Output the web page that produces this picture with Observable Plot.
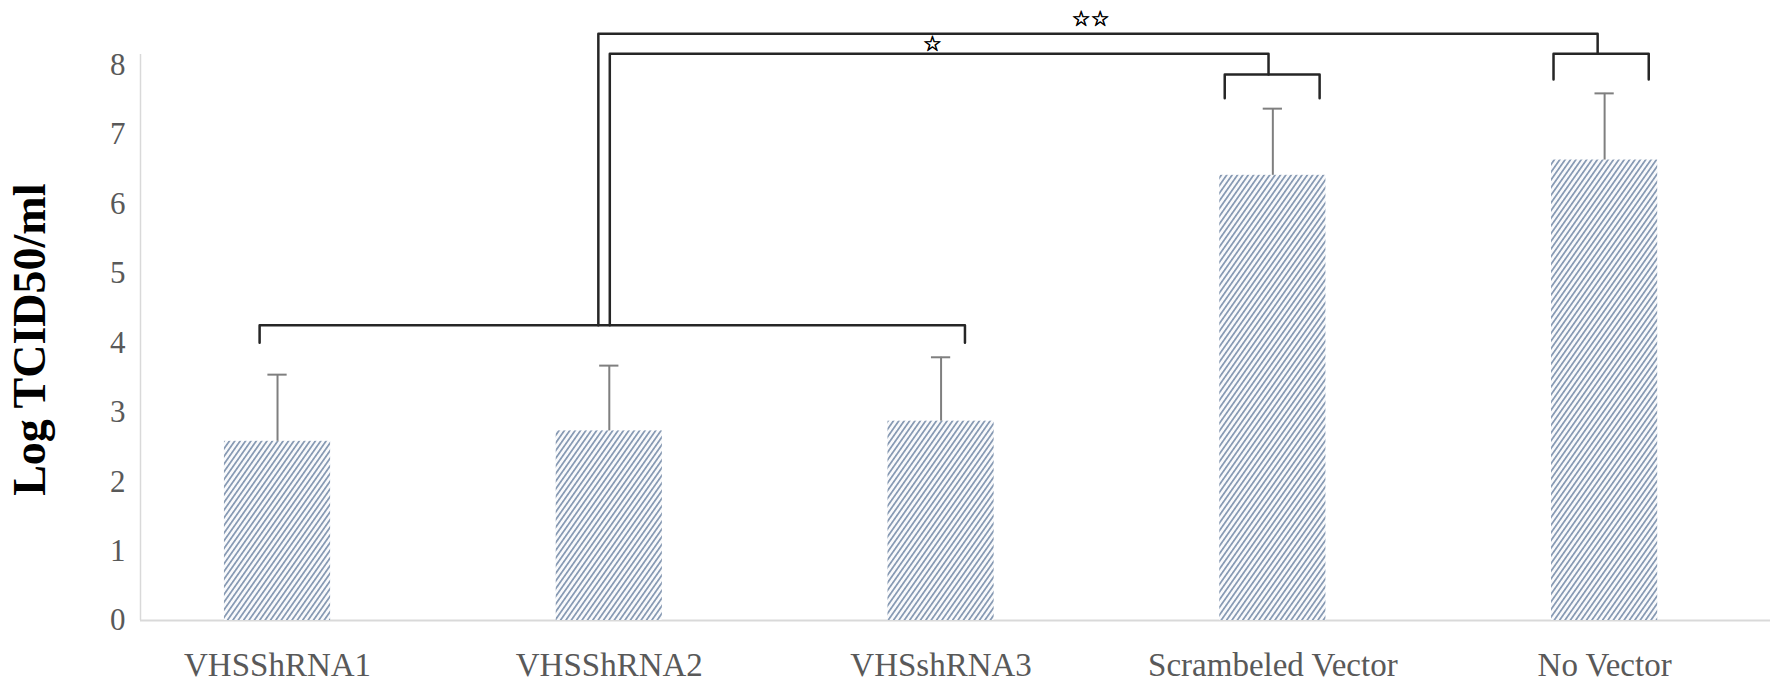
<!DOCTYPE html>
<html>
<head>
<meta charset="utf-8">
<script src="https://cdn.jsdelivr.net/npm/d3@7"></script>
<script src="https://cdn.jsdelivr.net/npm/@observablehq/plot@0.6"></script>
<style>
  html, body { margin: 0; padding: 0; background: #fff; }
  #chart svg { display: block; }
</style>
</head>
<body>
<div id="chart"></div>
<script>
// ---- data ----
const categories = ["VHSShRNA1", "VHSShRNA2", "VHSshRNA3", "Scrambeled Vector", "No Vector"];
const means = [2.58, 2.73, 2.87, 6.41, 6.63];
const errors = [0.96, 0.94, 0.92, 0.96, 0.96];
const yTicks = [0, 1, 2, 3, 4, 5, 6, 7, 8];
const yTitle = "Log TCID50/ml";

// significance brackets: [categoryIndex, value] points
const bracketLow = [[-0.054, 4.0], [-0.054, 4.25], [2.072, 4.25], [2.072, 4.0]];
const bracketOuter = [[0.967, 4.25], [0.967, 8.45], [3.979, 8.45], [3.979, 8.16]];
const bracketNoVector = [[3.846, 7.79], [3.846, 8.16], [4.133, 8.16], [4.133, 7.79]];
const bracketInner = [[1.0015, 4.25], [1.0015, 8.16], [2.987, 8.16], [2.987, 7.86]];
const bracketScrambled = [[2.855, 7.52], [2.855, 7.86], [3.141, 7.86], [3.141, 7.52]];
const starLabels = [
  {x: 1.974, y: 8.29, text: "☆"},
  {x: 2.451, y: 8.65, text: "☆☆"}
];

// ---- layout constants ----
const xDomain = [-0.413, 4.5];
const barHalf = 0.16;
const capHalf = 0.029;

const rows = categories.map((c, i) => ({i, cat: c, mean: means[i], top: means[i] + errors[i]}));
const brackets = [bracketLow, bracketOuter, bracketNoVector, bracketInner, bracketScrambled]
  .flatMap((b, k) => b.map(([x, y]) => ({k, x, y})));

const svg = Plot.plot({
  width: 1772,
  height: 698,
  marginLeft: 140,
  marginRight: 2,
  marginTop: 64.4,
  marginBottom: 78,
  style: {fontFamily: "'Liberation Serif', 'Times New Roman', serif", background: "#fff"},
  x: {domain: xDomain},
  y: {domain: [0, 8]},
  marks: [
    Plot.ruleY([0], {stroke: "#d9d9d9", strokeWidth: 2}),
    Plot.ruleX([xDomain[0]], {y1: 0, y2: 8.15, stroke: "#d9d9d9", strokeWidth: 1.5}),
    Plot.rectY(rows, {x1: d => d.i - barHalf, x2: d => d.i + barHalf, y1: 0, y2: "mean", fill: "url(#hatch)"}),
    Plot.ruleX(rows, {x: "i", y1: "mean", y2: "top", stroke: "#7f7f7f", strokeWidth: 2}),
    Plot.ruleY(rows, {y: "top", x1: d => d.i - capHalf, x2: d => d.i + capHalf, stroke: "#7f7f7f", strokeWidth: 2}),
    Plot.line(brackets, {x: "x", y: "y", z: "k", stroke: "#262626", strokeWidth: 2.5, curve: "linear"}),
    Plot.text(starLabels, {x: "x", y: "y", text: "text", fontSize: 21, fill: "#000", stroke: "#000", strokeWidth: 0.7, fontFamily: "DejaVu Sans"}),
    Plot.axisY({ticks: yTicks, tickSize: 0, tickPadding: 15, fontSize: 31, fill: "#595959", label: null}),
    Plot.axisX({ticks: categories.map((c, i) => i), tickFormat: i => categories[i], tickSize: 0, tickPadding: 32, fontSize: 33, fill: "#595959", label: null}),
    Plot.text([yTitle], {frameAnchor: "left", textAnchor: "middle", rotate: -90, dx: -110, dy: -3, fontSize: 46, fontWeight: "bold", fill: "#000", letterSpacing: 2.5})
  ]
});

// hatch pattern definition
const ns = "http://www.w3.org/2000/svg";
const defs = document.createElementNS(ns, "defs");
const pat = document.createElementNS(ns, "pattern");
pat.setAttribute("id", "hatch");
pat.setAttribute("patternUnits", "userSpaceOnUse");
pat.setAttribute("width", "4.4");
pat.setAttribute("height", "10");
pat.setAttribute("patternTransform", "rotate(35)");
const bg = document.createElementNS(ns, "rect");
bg.setAttribute("width", "4.4"); bg.setAttribute("height", "10"); bg.setAttribute("fill", "#f9fafc");
const ln = document.createElementNS(ns, "rect");
ln.setAttribute("x", "0"); ln.setAttribute("width", "1.7"); ln.setAttribute("height", "10"); ln.setAttribute("fill", "#8598b2");
pat.appendChild(bg); pat.appendChild(ln);
defs.appendChild(pat);
svg.insertBefore(defs, svg.firstChild);

document.getElementById("chart").appendChild(svg);
</script>
</body>
</html>
